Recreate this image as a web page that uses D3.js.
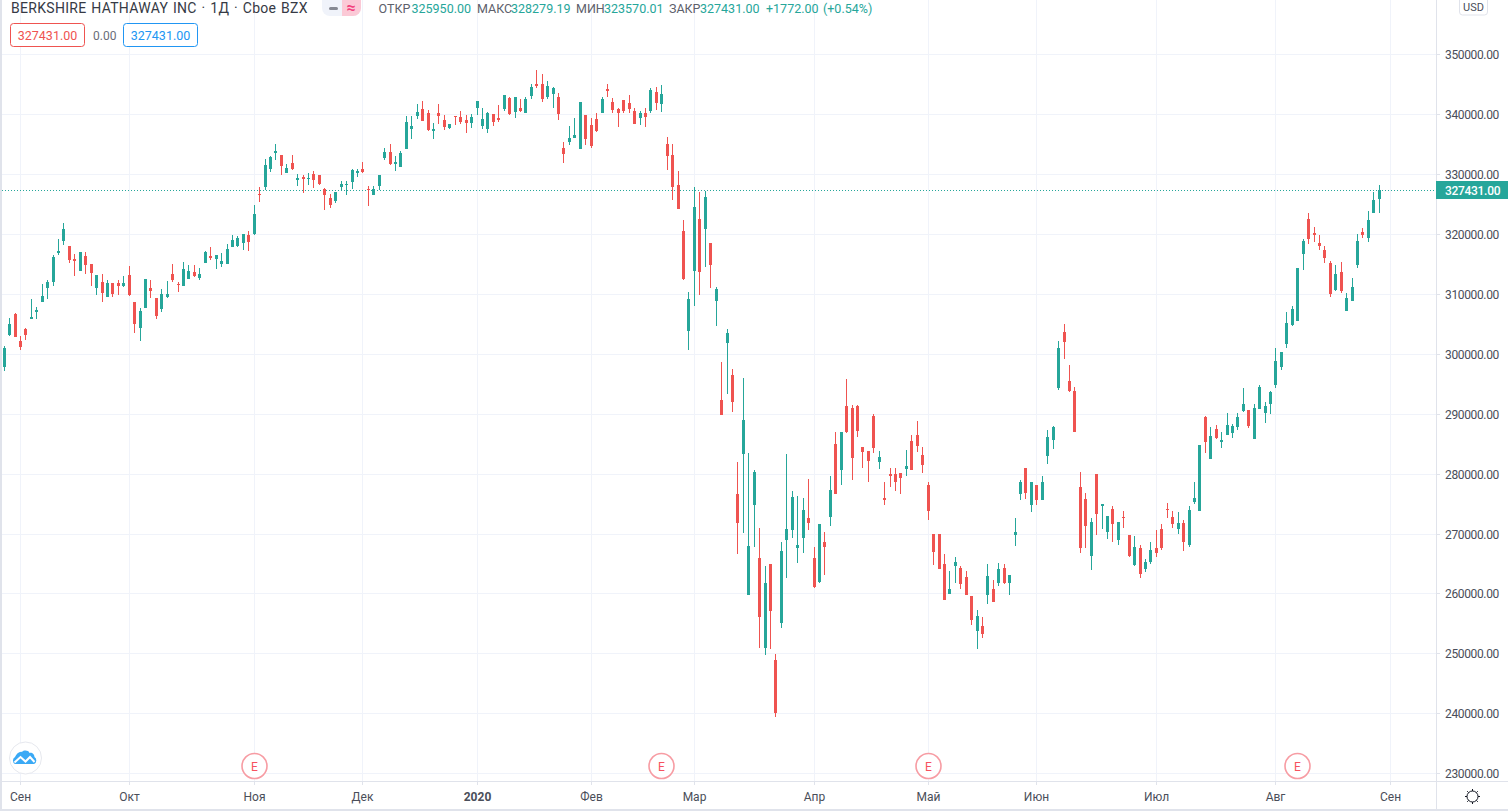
<!DOCTYPE html>
<html><head><meta charset="utf-8">
<script src="https://cdn.jsdelivr.net/npm/d3@7"></script>
<style>
html,body{margin:0;padding:0;background:#fff;overflow:hidden}
svg{display:block}
text{font-family:Roboto,"Open Sans",sans-serif}
</style></head><body>
<svg id="c" width="1508" height="811"></svg>
<script>
// Prices in thousands of USD, one entry per trading day
const opens=[297.9,303.2,306.7,302.2,304.2,305.9,307.06,308.7,311.06,312.06,
316.9,318.9,318.06,315.9,313.9,316.4,315.06,311.06,312.06,309.6,
311.9,311.9,311.4,313.2,308.7,304.4,307.7,311.06,309.4,307.6,
309.6,313.4,311.7,311.4,312.6,313.7,312.7,315.2,316.4,315.9,
315.06,315.06,317.9,318.06,318.6,319.9,320.06,326.8,327.9,330.9,
333.6,333.2,330.2,331.9,329.06,329.6,329.2,330.06,329.9,327.6,
326.06,325.6,327.9,328.2,328.7,330.2,330.9,327.6,326.6,328.06,
332.7,333.7,331.7,331.2,334.2,337.6,339.7,340.9,340.2,337.2,
340.2,339.06,337.7,339.7,339.6,339.06,338.6,341.06,338.06,337.6,
340.06,339.4,340.9,342.7,340.4,341.06,340.2,343.06,345.06,345.06,
342.9,343.4,342.9,334.4,335.4,336.06,334.2,339.9,338.2,339.2,
340.2,344.2,342.06,340.9,342.4,341.9,340.6,339.4,340.2,340.6,
343.7,341.7,335.06,333.2,328.2,320.6,303.9,313.9,322.6,320.9,
318.6,308.9,292.4,301.9,296.6,276.7,283.4,259.9,274.9,266.06,
251.06,265.06,249.06,255.2,269.06,270.7,267.6,269.4,272.7,266.06,
262.06,268.7,272.9,285.06,280.7,291.4,291.0,291.4,284.6,283.9,
289.7,282.06,276.06,280.06,280.06,280.2,280.9,285.6,286.6,283.2,
278.2,270.06,270.06,265.06,260.06,264.6,264.4,262.9,259.6,253.9,
254.7,259.9,260.9,261.9,264.4,261.9,269.9,276.7,281.06,274.9,
278.2,275.6,283.06,285.7,294.4,303.7,295.6,293.9,277.9,275.9,
266.4,280.06,274.7,270.4,274.2,269.06,272.9,269.9,264.9,267.6,
264.2,265.4,267.7,270.9,274.2,272.9,270.9,271.9,268.2,275.4,
273.9,289.6,282.6,287.6,285.4,286.6,286.9,287.9,290.6,290.7,
285.9,290.9,290.2,291.7,294.9,297.9,301.7,304.9,305.6,316.7,
322.6,320.2,318.6,317.4,315.2,310.7,313.7,307.2,308.9,314.9,
320.4,319.4,323.6,325.95];
const highs=[301.4,306.1,306.9,303.1,304.4,309.2,307.9,311.7,312.4,316.6,
319.2,321.9,318.06,316.7,317.06,317.06,315.06,313.2,313.4,312.4,
311.9,312.4,313.06,314.7,308.7,307.7,312.6,312.4,309.4,310.9,
312.2,315.06,312.06,315.4,314.9,314.9,314.4,317.2,317.9,316.6,
316.9,318.4,319.9,319.7,320.06,320.6,324.9,327.9,332.6,333.06,
335.06,333.2,331.7,333.2,330.06,329.9,330.2,330.6,329.9,327.7,
326.7,327.06,328.9,328.9,330.9,330.9,332.06,328.06,328.06,329.9,
334.4,335.06,333.06,333.9,339.7,339.7,341.7,342.2,340.7,338.6,
341.7,339.9,338.4,339.7,340.6,339.9,340.06,342.2,341.06,340.4,
340.06,341.6,343.2,342.9,342.9,342.6,342.9,345.06,347.4,346.7,
345.6,344.6,343.6,335.4,338.06,339.4,342.06,339.9,339.4,340.2,
342.9,345.06,342.7,341.06,342.4,343.2,341.06,340.6,341.06,344.4,
344.6,344.9,336.2,335.06,330.6,322.4,310.4,327.9,327.06,327.2,
318.6,311.2,298.7,304.2,297.6,282.06,296.06,283.6,280.7,271.06,
264.6,265.06,250.06,268.6,283.4,277.2,276.4,276.06,279.2,267.9,
271.6,270.4,279.6,287.06,287.06,295.9,291.6,291.6,284.6,283.9,
290.0,283.9,278.7,281.06,281.06,280.2,284.06,286.6,288.9,284.6,
278.7,270.06,270.06,266.6,263.9,266.2,264.6,263.9,259.6,257.4,
256.2,265.06,262.4,265.2,265.06,263.2,272.6,279.06,281.06,278.7,
278.2,279.6,287.4,288.06,302.2,305.06,298.2,294.6,280.4,276.9,
272.6,280.06,275.06,273.06,274.6,272.06,273.9,269.9,269.7,268.2,
265.9,268.7,270.6,271.6,275.2,273.9,273.7,272.4,274.6,278.7,
284.9,289.7,287.9,288.2,287.06,290.2,288.4,290.2,294.4,290.7,
291.7,294.9,292.06,293.9,301.06,300.4,307.06,308.06,314.4,319.2,
323.6,321.2,319.9,318.06,315.6,314.9,315.4,310.2,312.7,320.06,
321.06,323.9,327.06,328.279];
const lows=[297.2,303.0,302.9,300.7,302.4,305.9,305.9,308.7,309.2,311.4,
316.6,318.2,315.2,313.06,313.9,313.4,311.4,309.9,308.7,309.6,
309.6,309.9,311.2,309.7,303.6,302.2,307.7,309.4,305.9,307.06,
309.4,312.06,310.4,311.4,312.6,312.9,312.4,315.2,315.7,314.2,
314.6,315.06,317.9,317.9,317.4,317.2,319.9,325.4,327.4,330.4,
332.4,329.9,330.2,330.7,328.06,326.9,328.2,327.7,328.2,324.06,
324.4,325.2,327.3,326.6,327.6,329.6,330.2,324.7,326.6,327.4,
332.4,331.6,330.6,331.2,334.2,335.9,339.2,338.9,337.2,335.9,
338.4,337.4,337.6,338.2,338.4,336.9,337.7,339.9,337.6,336.9,
338.06,338.7,340.6,339.9,339.4,340.4,340.2,342.6,344.4,342.06,
342.6,341.06,339.06,331.9,334.9,336.06,334.2,334.9,334.4,337.06,
340.2,342.9,340.2,337.9,340.2,340.2,338.4,338.2,337.9,340.2,
340.7,340.4,330.7,325.7,324.2,312.4,300.7,308.06,309.9,314.6,
311.06,304.7,289.9,293.4,290.4,266.7,270.2,259.9,267.9,251.06,
249.9,250.9,239.4,254.4,262.7,269.4,265.2,266.9,270.7,261.06,
261.9,263.2,271.4,276.6,278.2,286.9,279.06,286.2,281.06,278.7,
283.6,280.9,274.9,277.9,277.2,276.6,279.7,280.6,283.7,280.2,
272.4,264.9,264.2,259.06,260.06,261.9,260.9,259.9,254.9,250.9,
252.7,258.4,258.7,261.4,261.6,259.9,268.06,275.7,275.9,273.7,
274.9,275.6,281.7,284.2,294.06,299.2,293.7,287.06,266.9,267.6,
264.06,269.9,270.9,269.2,268.7,268.2,271.06,266.2,264.6,262.7,
263.6,265.06,266.2,267.4,272.6,271.06,270.06,267.2,267.9,275.06,
273.9,283.6,282.6,285.9,284.4,286.6,286.06,287.4,290.4,287.7,
285.9,290.9,288.6,290.06,294.4,297.4,301.06,304.7,305.6,314.06,
318.4,318.7,317.4,315.2,309.6,310.6,310.2,307.2,308.9,314.4,
319.4,318.7,323.6,323.57];
const closes=[301.0,305.06,302.9,301.2,303.2,306.2,307.4,309.7,312.06,316.2,
317.2,320.9,315.7,315.6,317.06,314.9,313.6,313.2,310.2,311.9,
310.06,311.4,311.9,309.9,305.06,307.2,312.6,310.6,306.4,310.06,
310.06,312.4,311.6,314.2,313.9,313.06,313.4,317.06,316.06,316.6,
315.6,317.6,319.06,319.4,320.06,318.7,323.4,326.7,331.6,332.9,
333.9,331.4,331.06,330.9,329.4,329.2,329.4,329.06,328.4,326.6,
324.9,327.06,328.4,328.4,330.7,330.6,330.4,327.4,327.6,329.9,
333.7,331.7,332.06,333.6,338.7,338.06,340.4,338.9,337.4,337.6,
339.7,337.9,338.4,339.6,338.7,338.6,339.6,342.2,339.2,340.2,
338.7,339.06,343.2,340.06,342.9,340.6,342.6,344.6,344.7,342.6,
344.7,344.4,340.06,333.4,336.06,336.6,342.06,335.9,334.7,337.2,
342.6,343.9,340.7,340.2,340.6,340.9,338.4,340.2,339.6,344.06,
341.9,343.4,333.06,327.9,324.2,312.6,309.2,324.6,313.7,326.2,
314.9,310.9,289.9,303.6,292.06,271.9,289.05,268.06,280.4,256.2,
261.9,257.2,240.06,267.2,270.9,276.2,268.2,274.06,271.9,261.2,
271.6,267.9,277.4,276.6,287.06,287.05,282.7,287.2,283.7,282.2,
284.4,282.9,275.7,279.6,278.7,279.4,281.4,280.6,284.7,281.6,
273.9,267.06,264.2,259.06,260.9,265.4,261.6,259.9,255.7,256.4,
253.4,263.06,258.7,264.2,261.9,263.2,270.4,278.6,276.9,278.7,
275.6,278.7,286.2,287.9,301.06,302.06,293.9,287.06,267.7,271.4,
272.06,273.4,275.06,273.06,271.6,272.06,272.6,266.4,267.9,263.4,
265.4,267.4,266.9,267.6,274.06,271.6,271.9,268.7,274.06,276.06,
284.9,285.4,286.4,286.06,285.7,288.2,288.06,289.6,291.7,288.06,
291.06,294.6,291.4,293.7,298.9,300.4,305.2,307.6,314.4,318.9,
319.2,319.9,318.06,316.06,310.06,313.4,310.6,309.4,311.2,318.9,
319.9,322.4,325.7,327.431];

const monthIndex=[3,23,46,66,87,108,127,149,170,190,212,234,255];
const monthLabels=["Сен","Окт","Ноя","Дек","2020","Фев","Мар","Апр","Май","Июн","Июл","Авг","Сен"];
const priceTicks=d3.range(230000,350001,10000);
const earningsIndex=[46,121,170,238];
const lastPrice=327431;

const title="BERKSHIRE HATHAWAY INC · 1Д · Cboe BZX";
const legendItems=[["ОТКР",378.5,0],["325950.00",411.5,1],["МАКС",477,0],["328279.19",511,1],["МИН",576,0],["323570.01",604,1],["ЗАКР",669,0],["327431.00",700,1],["+1772.00",766,1],["(+0.54%)",823,1]];

const W=1508,H=811,paneR=1436,axisY=781,leftEdge=2;
const UP="#26a69a",DOWN="#ef5350",GRID="#f0f3fa",BORDER="#e0e3eb",TXT="#4a4e59";

const x=d3.scaleLinear().domain([0,255]).range([4.2,1390.1]);
const y=d3.scaleLinear().domain([230000,350000]).range([773.8,54.5]);
const px=i=>Math.floor(x(i));
const py=v=>Math.floor(y(v));

const svg=d3.select("#c");
svg.append("rect").attr("width",W).attr("height",H).attr("fill","#fff");

// grid
const grid=svg.append("g").attr("shape-rendering","crispEdges").attr("stroke",GRID).attr("stroke-width",1);
grid.selectAll(".h").data(priceTicks).join("line").attr("x1",leftEdge).attr("x2",paneR).attr("y1",d=>py(d)+.5).attr("y2",d=>py(d)+.5);
grid.selectAll(".v").data(monthIndex).join("line").attr("y1",0).attr("y2",axisY).attr("x1",d=>px(d)+.5).attr("x2",d=>px(d)+.5);

// last price line
svg.append("line").attr("x1",leftEdge).attr("x2",paneR).attr("y1",190.5).attr("y2",190.5)
  .attr("stroke",UP).attr("stroke-width",1).attr("stroke-dasharray","1 2").attr("shape-rendering","crispEdges");

// candles
const candles=opens.map((o,i)=>({i,o:o*1000,h:highs[i]*1000,l:lows[i]*1000,c:closes[i]*1000}));
const g=svg.append("g").attr("shape-rendering","crispEdges");
const ry=v=>Math.round(y(v));
g.selectAll(".w").data(candles).join("rect")
  .attr("x",d=>px(d.i)).attr("width",1)
  .attr("y",d=>ry(d.h)).attr("height",d=>Math.max(1,ry(d.l)-ry(d.h)))
  .attr("fill",d=>d.c>=d.o?UP:DOWN);
g.selectAll(".b").data(candles).join("rect")
  .attr("x",d=>px(d.i)-1).attr("width",3)
  .attr("y",d=>ry(Math.max(d.o,d.c))).attr("height",d=>Math.max(1,ry(Math.min(d.o,d.c))-ry(Math.max(d.o,d.c))))
  .attr("fill",d=>d.c>=d.o?UP:DOWN);

// earnings markers
const em=svg.append("g").selectAll("g").data(earningsIndex).join("g").attr("transform",d=>`translate(${px(d)+.5},766)`);
em.append("circle").attr("r",12.5).attr("fill","#fff").attr("stroke","#f79ca3").attr("stroke-width",1.6);
em.append("text").attr("text-anchor","middle").attr("y",4.5).attr("font-size",12).attr("fill","#f7525f").text("E");

// panes' borders
svg.append("rect").attr("x",paneR).attr("y",0).attr("width",W-paneR).attr("height",H).attr("fill","#fff");
svg.append("rect").attr("x",0).attr("y",axisY).attr("width",W).attr("height",H-axisY).attr("fill","#fff");
svg.append("rect").attr("x",0).attr("y",0).attr("width",leftEdge).attr("height",H).attr("fill",BORDER);
const lines=svg.append("g").attr("shape-rendering","crispEdges");
lines.append("rect").attr("x",paneR).attr("y",0).attr("width",1).attr("height",809).attr("fill",BORDER);
lines.append("rect").attr("x",0).attr("y",axisY).attr("width",W).attr("height",1).attr("fill",BORDER);
lines.append("rect").attr("x",0).attr("y",809).attr("width",W).attr("height",2).attr("fill",BORDER);

// price axis
const ya=svg.append("g").attr("transform",`translate(${paneR},0)`)
  .call(d3.axisRight(y).tickValues(priceTicks).tickSize(4).tickPadding(5).tickFormat(d=>d.toFixed(2)));
ya.select(".domain").remove();
ya.selectAll(".tick").attr("transform",d=>`translate(0,${py(d)+1})`);
ya.selectAll(".tick line").attr("stroke",BORDER).attr("shape-rendering","crispEdges").attr("y1",-.5).attr("y2",-.5);
ya.selectAll(".tick text").attr("fill",TXT).attr("font-size",12).attr("letter-spacing","-0.35").attr("font-family","Roboto");

// time axis
const xa=svg.append("g").attr("transform",`translate(0,${axisY})`)
  .call(d3.axisBottom(x).tickValues(monthIndex).tickSize(4).tickPadding(7).tickFormat((d,i)=>monthLabels[i]));
xa.select(".domain").remove();
xa.selectAll(".tick").attr("transform",d=>`translate(${px(d)+.5},0)`);
xa.selectAll(".tick line").attr("stroke",BORDER).attr("shape-rendering","crispEdges");
xa.selectAll(".tick text").attr("fill",TXT).attr("font-size",12).attr("font-family","Roboto")
  .attr("font-weight",d=>d===87?700:400);

// last price tag
svg.append("rect").attr("x",paneR).attr("y",181).attr("width",W-paneR).attr("height",18).attr("fill",UP);
svg.append("text").attr("x",1445).attr("y",194.5).attr("fill","#fff").attr("font-size",12).attr("font-weight",500).attr("letter-spacing","-0.3").text(lastPrice.toFixed(2));

// title and legend
svg.append("text").attr("x",11).attr("y",12.5).attr("font-size",14).attr("letter-spacing","0.3").attr("word-spacing","1").attr("fill","#363a45").text(title);
const pill=svg.append("g");
pill.append("rect").attr("x",322).attr("y",-8).attr("width",39).attr("height",24).attr("rx",8).attr("fill","#f0f3fa");
pill.append("path").attr("d","M342 -8H353a8 8 0 0 1 8 8V8a8 8 0 0 1 -8 8H342Z").attr("fill","#fbc9d6");
pill.append("rect").attr("x",329).attr("y",7).attr("width",9).attr("height",3).attr("rx",1.5).attr("fill","#868993");
pill.append("text").attr("x",351).attr("y",13).attr("text-anchor","middle").attr("font-size",16).attr("font-weight",700).attr("fill","#f23e7c").text("≈");
svg.append("g").selectAll("text").data(legendItems).join("text")
  .attr("x",d=>d[1]).attr("y",12.5).attr("font-size",12.5).attr("fill",d=>d[2]?UP:"#5d606b").text(d=>d[0]);

// indicator row
const boxes=[[10.5,"#ef5350"],[123.5,"#2196f3"]];
const ib=svg.append("g").selectAll("g").data(boxes).join("g").attr("transform",d=>`translate(${d[0]},23.5)`);
ib.append("rect").attr("width",74).attr("height",23).attr("rx",3).attr("fill","#fff").attr("stroke",d=>d[1]);
ib.append("text").attr("x",37).attr("y",16).attr("text-anchor","middle").attr("font-size",12.5).attr("fill",d=>d[1]).text(lastPrice.toFixed(2));
svg.append("text").attr("x",93).attr("y",39.5).attr("font-size",12).attr("fill","#6a6d78").text("0.00");

// currency box
svg.append("rect").attr("x",1459.5).attr("y",-5).attr("width",28).attr("height",20).attr("rx",3).attr("fill","#fff").attr("stroke",BORDER);
svg.append("text").attr("x",1473.5).attr("y",10.5).attr("text-anchor","middle").attr("font-size",11).attr("fill",TXT).text("USD");

// logo
const logo=svg.append("g").attr("transform","translate(25.5,758)");
logo.append("circle").attr("r",16).attr("fill","#fff").attr("stroke","#e6e8ee").attr("stroke-width",1);
logo.append("path").attr("d","M-10.5 6a4 4 0 0 1 0 -7C-9 -4 -6 -7 -3.5 -6C-2 -8 3 -8 4 -5C7 -6 9 -3 9 -1A4 4 0 0 1 8.5 6Z").attr("fill","#3aa9f5");
logo.append("path").attr("d","M-11 4.5L-5 -1L0 3.5L4.5 -1L9 4").attr("fill","none").attr("stroke","#fff").attr("stroke-width",2);

// settings gear
const sun=svg.append("g").attr("transform","translate(1472.5,796.5)").attr("stroke","#131722").attr("fill","none");
sun.append("circle").attr("r",5.5);
sun.selectAll("line").data(d3.range(8)).join("line")
  .attr("x1",d=>5.5*Math.cos(d*Math.PI/4)).attr("y1",d=>5.5*Math.sin(d*Math.PI/4))
  .attr("x2",d=>7.5*Math.cos(d*Math.PI/4)).attr("y2",d=>7.5*Math.sin(d*Math.PI/4));
</script>
</body></html>
